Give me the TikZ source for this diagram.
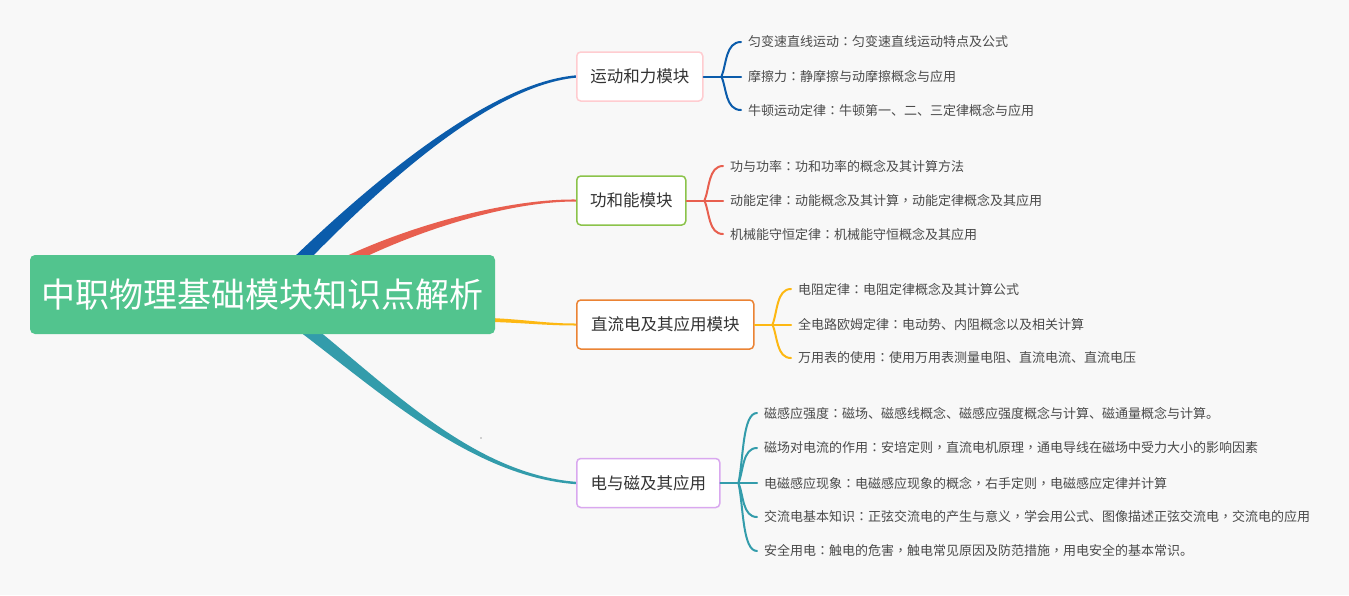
\documentclass[tikz,border=0pt]{standalone}
\usepackage{fontspec}
\setmainfont{Noto Sans CJK SC}
\newfontfamily\tcfont{Noto Sans CJK TC}
\newcommand\qcolon{{\tcfont ：}}
\newcommand\qcomma{{\tcfont ，}}
\usetikzlibrary{calc}
\definecolor{bgc}{HTML}{F8F8F8}
\definecolor{cblue}{HTML}{0B5CAB}
\definecolor{cred}{HTML}{E85F4F}
\definecolor{cyel}{HTML}{FDB813}
\definecolor{cteal}{HTML}{339CAB}
\definecolor{croot}{HTML}{52C48E}
\definecolor{bpink}{HTML}{FFCCD0}
\definecolor{bgreen}{HTML}{8BC34A}
\definecolor{borange}{HTML}{EB8334}
\definecolor{bpurple}{HTML}{D9A8EF}
\definecolor{leaftext}{HTML}{4A4A4A}
\definecolor{branchtext}{HTML}{333333}
\pgfdeclarelayer{back}
\pgfsetlayers{back,main}
\tikzset{
  rootbox/.style={rounded corners=5pt, fill=croot, text=white, minimum width=465pt, minimum height=79pt, inner sep=0pt,
    font=\fontsize{34}{40}\selectfont},
  branchbox/.style={draw, line width=1.5pt, rounded corners=4pt, fill=white, minimum height=49pt, inner sep=0pt,
    anchor=west, text=branchtext, font=\fontsize{16.5}{20}\selectfont},
  leaf/.style={anchor=west, inner sep=0pt, text=leaftext, font=\fontsize{13}{15}\selectfont},
  bracel/.style={line width=2pt, line cap=round},
}
\newcommand\leafbrace[3]{%
  \draw[bracel,#3] let \p1=(#1), \p2=(#2.west), \p3=($(#1)!0.35!(#1 |- #2.west)$) in
    (\p1) .. controls (\x1+5pt,\y3) and (\x1+4pt,\y2) .. (\x2-7pt,\y2);}
\begin{document}
\begin{tikzpicture}[x=1pt,y=-1pt]
\useasboundingbox (0,0) rectangle (1349,595);
% nodes
\node[rootbox] (root) at (262.5,294.5) {中职物理基础模块知识点解析};
\node[branchbox, draw=bpink, minimum width=126pt] (b1) at (576,76.5) {运动和力模块};
\node[branchbox, draw=bgreen, minimum width=109pt] (b2) at (576,200.5) {功和能模块};
\node[branchbox, draw=borange, minimum width=177pt] (b3) at (576,324.5) {直流电及其应用模块};
\node[branchbox, draw=bpurple, minimum width=143pt] (b4) at (576,483) {电与磁及其应用};

\node[leaf] (l11) at (748,42) {匀变速直线运动\qcolon 匀变速直线运动特点及公式};
\node[leaf] (l12) at (748,76.5) {摩擦力\qcolon 静摩擦与动摩擦概念与应用};
\node[leaf] (l13) at (748,110) {牛顿运动定律\qcolon 牛顿第一、二、三定律概念与应用};

\node[leaf] (l21) at (730,166) {功与功率\qcolon 功和功率的概念及其计算方法};
\node[leaf] (l22) at (730,200.5) {动能定律\qcolon 动能概念及其计算\qcomma 动能定律概念及其应用};
\node[leaf] (l23) at (730,234) {机械能守恒定律\qcolon 机械能守恒概念及其应用};

\node[leaf] (l31) at (798,289) {电阻定律\qcolon 电阻定律概念及其计算公式};
\node[leaf] (l32) at (798,324.5) {全电路欧姆定律\qcolon 电动势、内阻概念以及相关计算};
\node[leaf] (l33) at (798,358) {万用表的使用\qcolon 使用万用表测量电阻、直流电流、直流电压};

\node[leaf] (l41) at (764,413) {磁感应强度\qcolon 磁场、磁感线概念、磁感应强度概念与计算、磁通量概念与计算。};
\node[leaf] (l42) at (764,448) {磁场对电流的作用\qcolon 安培定则\qcomma 直流电机原理\qcomma 通电导线在磁场中受力大小的影响因素};
\node[leaf] (l43) at (764,483) {电磁感应现象\qcolon 电磁感应现象的概念\qcomma 右手定则\qcomma 电磁感应定律并计算};
\node[leaf] (l44) at (764,517) {交流电基本知识\qcolon 正弦交流电的产生与意义\qcomma 学会用公式、图像描述正弦交流电\qcomma 交流电的应用};
\node[leaf] (l45) at (764,551) {安全用电\qcolon 触电的危害\qcomma 触电常见原因及防范措施\qcomma 用电安全的基本常识。};

% junctions
\coordinate (j1) at ($(b1.east)+(18,0)$);
\coordinate (j2) at ($(b2.east)+(18,0)$);
\coordinate (j3) at ($(b3.east)+(18,0)$);
\coordinate (j4) at ($(b4.east)+(18,0)$);

\begin{pgfonlayer}{back}
\fill[bgc] (0,0) rectangle (1349,595);
% tapered main connectors
\fill[cblue] (294.6,274.6) .. controls (353.7,213.7) and (480,86.5) .. ($(b1.west)+(0,1.2)$)
  -- ($(b1.west)+(0,-1.2)$) .. controls (480,83.5) and (346.3,206.3) .. (285.4,265.4) -- cycle;
\fill[cred] (322.5,279.3) .. controls (392,238.5) and (500,201.3) .. ($(b2.west)+(0,1)$)
  -- ($(b2.west)+(0,-1)$) .. controls (500,198.7) and (388,231.5) .. (317.5,270.7) -- cycle;
\fill[cyel] (470,317.5) .. controls (520,318) and (540,323.5) .. ($(b3.west)+(0,-1)$)
  -- ($(b3.west)+(0,1)$) .. controls (540,325.5) and (520,322) .. (470,321.5) -- cycle;
\fill[cteal] (298.9,314.8) .. controls (383.1,380.8) and (470,473.5) .. ($(b4.west)+(0,-1.2)$)
  -- ($(b4.west)+(0,1.2)$) .. controls (470,476.5) and (376.9,389.2) .. (291.1,325.2) -- cycle;
\end{pgfonlayer}

\fill[black!70] (481,438) circle (0.7);

% brackets
\draw[bracel,cblue] (b1.east) -- (j1);
\foreach \l in {l11,l12,l13}{\leafbrace{j1}{\l}{cblue}}
\draw[bracel,cred] (b2.east) -- (j2);
\foreach \l in {l21,l22,l23}{\leafbrace{j2}{\l}{cred}}
\draw[bracel,cyel] (b3.east) -- (j3);
\foreach \l in {l31,l32,l33}{\leafbrace{j3}{\l}{cyel}}
\draw[bracel,cteal,line width=2.5pt] (b4.east) -- (j4);
\foreach \l in {l41,l42,l43,l44,l45}{\leafbrace{j4}{\l}{cteal}}
\end{tikzpicture}
\end{document}
